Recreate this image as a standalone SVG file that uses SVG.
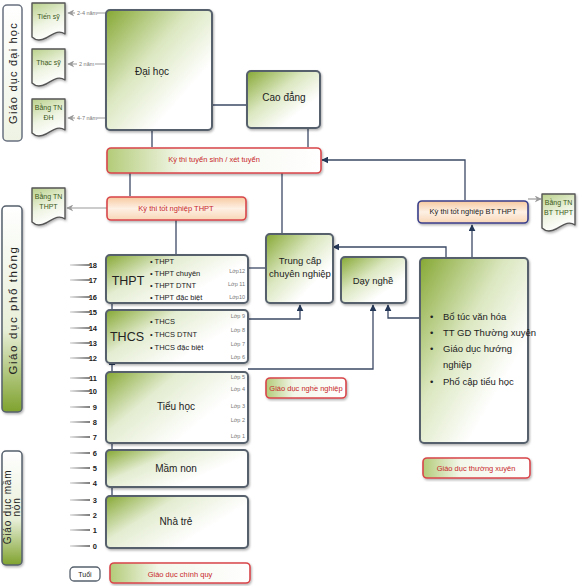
<svg xmlns="http://www.w3.org/2000/svg" xmlns:xlink="http://www.w3.org/1999/xlink" width="580" height="586" viewBox="0 0 580 586">
<defs>
<linearGradient id="gBox" x1="0" y1="0" x2="1" y2="1">
<stop offset="0" stop-color="#86a834"/><stop offset="0.4" stop-color="#dbe7c0"/><stop offset="0.72" stop-color="#ffffff"/>
</linearGradient>
<linearGradient id="gWide" x1="0" y1="0" x2="1" y2="0.6">
<stop offset="0" stop-color="#86a834"/><stop offset="0.38" stop-color="#e3ecd0"/><stop offset="0.8" stop-color="#ffffff"/>
</linearGradient>
<linearGradient id="gLabel" x1="0" y1="0" x2="1" y2="0">
<stop offset="0" stop-color="#b3cb78"/><stop offset="0.35" stop-color="#f3f7ea"/><stop offset="1" stop-color="#ffffff"/>
</linearGradient>
<linearGradient id="gOrange" x1="0" y1="0" x2="0" y2="1">
<stop offset="0" stop-color="#f7c9a0"/><stop offset="0.5" stop-color="#fdf0e4"/><stop offset="1" stop-color="#f9d6b6"/>
</linearGradient>
<linearGradient id="gSide" x1="0" y1="0" x2="0" y2="1">
<stop offset="0" stop-color="#ffffff"/><stop offset="0.6" stop-color="#e8efd8"/><stop offset="1" stop-color="#7fa22e"/>
</linearGradient>
<linearGradient id="gSideLight" x1="0" y1="0" x2="0" y2="1">
<stop offset="0" stop-color="#ffffff"/><stop offset="1" stop-color="#eef3e4"/>
</linearGradient>
<linearGradient id="gDoc" x1="0" y1="0" x2="0.4" y2="1">
<stop offset="0" stop-color="#b9d08a"/><stop offset="0.6" stop-color="#eef4e2"/><stop offset="1" stop-color="#ffffff"/>
</linearGradient>
<linearGradient id="gBar" x1="0" y1="0" x2="1" y2="0">
<stop offset="0" stop-color="#e4e4e4"/><stop offset="1" stop-color="#7d7d7d"/>
</linearGradient>
<filter id="sh" x="-10%" y="-10%" width="130%" height="130%">
<feDropShadow dx="1" dy="1.5" stdDeviation="1.2" flood-color="#000" flood-opacity="0.3"/>
</filter>
<marker id="ar" viewBox="0 0 10 10" refX="9" refY="5" markerWidth="7" markerHeight="7" orient="auto" markerUnits="userSpaceOnUse">
<path d="M0,0 L10,5 L0,10 Z" fill="#253858"/>
</marker>
<marker id="arg" viewBox="0 0 10 10" refX="9" refY="5" markerWidth="7" markerHeight="7" orient="auto" markerUnits="userSpaceOnUse">
<path d="M0,0 L10,5 L0,10 L3,5 Z" fill="#9a9a9a"/>
</marker>
<path id="doc" d="M0,0 H33 V31 C26,26 20,32 14,35 C8,38 3,37 0,34 Z"/>
<style>
text{font-family:"Liberation Sans","DejaVu Sans",sans-serif;fill:#222;}
.box{fill:url(#gBox);stroke:#56606c;stroke-width:2;filter:url(#sh);}
.wide{fill:url(#gWide);stroke:#56606c;stroke-width:2;filter:url(#sh);}
.lbl{fill:url(#gLabel);stroke:#d8464a;stroke-width:1.6;filter:url(#sh);}
.exam{fill:url(#gOrange);stroke:#d8464a;stroke-width:1.6;filter:url(#sh);}
.doc{fill:url(#gDoc);stroke:#555;stroke-width:1.4;stroke-linejoin:round;filter:url(#sh);}
.side{fill:url(#gSide);stroke:#56606c;stroke-width:1.5;filter:url(#sh);}
.conn{fill:none;stroke:#3c4a66;stroke-width:1.3;}
.gconn{fill:none;stroke:#9a9a9a;stroke-width:1.2;}
.red{fill:#c8282c;font-size:7.5px;text-anchor:middle;}
.mid{text-anchor:middle;}
.lop{font-size:5.5px;fill:#777;text-anchor:end;}
.bul{font-size:7.5px;}
.age{font-size:7.5px;font-weight:bold;text-anchor:end;fill:#222;}
.doct{font-size:7px;fill:#3c5a1a;text-anchor:middle;}
.yr{font-size:5.5px;fill:#777;}
</style>
</defs>
<rect width="580" height="586" fill="#ffffff"/>

<!-- side labels -->
<g id="side-dh">
<rect x="3" y="5" width="19" height="136" rx="4" fill="url(#gSideLight)" stroke="#6a7280" stroke-width="1.5"/>
<text transform="translate(16.5,73) rotate(-90)" class="mid" font-size="11" fill="#444" letter-spacing="1.2">Giáo dục đại học</text>
</g>
<g id="side-pt">
<rect x="2" y="206" width="20" height="206" rx="4" class="side"/>
<text transform="translate(16.5,310) rotate(-90)" class="mid" font-size="11.5" fill="#3c5a1a" letter-spacing="1.6">Giáo dục phổ thông</text>
</g>
<g id="side-mn">
<rect x="2" y="451" width="20" height="114" rx="4" class="side"/>
<text transform="translate(11,507) rotate(-90)" class="mid" font-size="10" fill="#3c5a1a" letter-spacing="0.8">Giáo dục mầm</text>
<text transform="translate(20,507) rotate(-90)" class="mid" font-size="10" fill="#3c5a1a" letter-spacing="0.8">non</text>
</g>

<!-- connectors -->
<g id="connectors">
<path class="gconn" d="M106,13 H68" marker-end="url(#arg)"/>
<path class="gconn" d="M106,64 H68" marker-end="url(#arg)"/>
<path class="gconn" d="M106,118 H68" marker-end="url(#arg)"/>
<path class="gconn" d="M107,208 H67" marker-end="url(#arg)"/>
<path class="gconn" d="M528,199 H541" marker-end="url(#arg)"/>
<path class="conn" d="M253,105 H199" marker-end="url(#ar)"/>
<path class="conn" d="M152,147 V122" marker-end="url(#ar)"/>
<path class="conn" d="M308,147 V118" marker-end="url(#ar)"/>
<path class="conn" d="M130,196 V160" marker-end="url(#ar)"/>
<path class="conn" d="M282,236 V163" marker-end="url(#ar)"/>
<path class="conn" d="M465,200 V160 H322" marker-end="url(#ar)"/>
<path class="conn" d="M176,255 V220"/>
<path class="conn" d="M472,283 V225" marker-end="url(#ar)"/>
<path class="conn" d="M446,258 V247 H333" marker-end="url(#ar)"/>
<path class="conn" d="M248,268 H275" marker-end="url(#ar)"/>
<path class="conn" d="M248,319 H300 V305" marker-end="url(#ar)"/>
<path class="conn" d="M248,369 H373 V305" marker-end="url(#ar)"/>
<path class="conn" d="M420,318 H388 V305" marker-end="url(#ar)"/>
<path class="conn" d="M112,505 V479" marker-end="url(#ar)"/>
<path class="conn" d="M112,479 V432" marker-end="url(#ar)"/>
<path class="conn" d="M112,432 V359" marker-end="url(#ar)"/>
<path class="conn" d="M112,359 V289" marker-end="url(#ar)"/>
</g>

<!-- year labels on connectors -->
<g id="years">
<rect x="75" y="9" width="22" height="7" fill="#fff"/>
<text x="77" y="15" class="yr">2-4 năm</text>
<rect x="77" y="60" width="18" height="7" fill="#fff"/>
<text x="79" y="66" class="yr">2 năm</text>
<rect x="75" y="114" width="22" height="7" fill="#fff"/>
<text x="77" y="120" class="yr">4-7 năm</text>
</g>

<!-- documents -->
<g id="doc-ts"><use xlink:href="#doc" x="32" y="3" class="doc"/><text x="48.5" y="19" class="doct">Tiến sỹ</text></g>
<g id="doc-ths"><use xlink:href="#doc" x="32" y="49" class="doc"/><text x="48.5" y="65" class="doct">Thạc sỹ</text></g>
<g id="doc-dh"><use xlink:href="#doc" x="32" y="99" class="doc"/><text x="48.5" y="110" class="doct">Bằng TN</text><text x="48.5" y="120" class="doct">ĐH</text></g>
<g id="doc-thpt"><use xlink:href="#doc" x="32" y="188" class="doc"/><text x="48.5" y="199" class="doct">Bằng TN</text><text x="48.5" y="209" class="doct">THPT</text></g>
<g id="doc-btthpt"><use xlink:href="#doc" x="542" y="194" class="doc"/><text x="558.5" y="205" class="doct">Bằng TN</text><text x="558.5" y="215" class="doct">BT THPT</text></g>

<!-- higher ed -->
<g id="dai-hoc"><rect x="106" y="10" width="106" height="120" rx="4" class="box"/><text x="152" y="75" class="mid" font-size="10">Đại học</text></g>
<g id="cao-dang"><rect x="247" y="71" width="73" height="57" rx="4" class="box"/><text x="284" y="101" class="mid" font-size="10">Cao đẳng</text></g>

<g id="ky-thi-ts"><rect x="107" y="148" width="214" height="25" rx="4" class="lbl"/><text x="214" y="162" class="red" font-size="8">Kỳ thi tuyển sinh / xét tuyển</text></g>
<g id="ky-thi-thpt"><rect x="107" y="197" width="139" height="23" rx="4" class="exam"/><text x="176" y="211" class="red">Kỳ thi tốt nghiệp THPT</text></g>
<g id="ky-thi-bt"><rect x="418" y="201" width="110" height="22" rx="4" fill="url(#gOrange)" stroke="#3a3f8a" stroke-width="1.6" filter="url(#sh)"/><text x="473" y="214" class="mid" font-size="7.5">Kỳ thi tốt nghiệp BT THPT</text></g>

<!-- vocational -->
<g id="trung-cap"><rect x="266" y="234" width="67" height="69" rx="4" class="box"/><text x="300" y="264" class="mid" font-size="9.5">Trung cấp</text><text x="300" y="277" class="mid" font-size="9.5">chuyên nghiệp</text></g>
<g id="day-nghe"><rect x="341" y="257" width="65" height="46" rx="4" class="box"/><text x="373" y="284" class="mid" font-size="9.5">Dạy nghề</text></g>
<g id="gdtx"><rect x="420" y="258" width="108" height="185" rx="4" class="box"/>
<text font-size="9.5">
<tspan x="430" y="320">•</tspan><tspan x="443" y="320">Bổ túc văn hóa</tspan>
<tspan x="430" y="336">•</tspan><tspan x="443" y="336">TT GD Thường xuyên</tspan>
<tspan x="430" y="352">•</tspan><tspan x="443" y="352">Giáo dục hướng</tspan>
<tspan x="443" y="368">nghiệp</tspan>
<tspan x="430" y="385">•</tspan><tspan x="443" y="385">Phổ cập tiểu học</tspan>
</text></g>

<!-- general ed -->
<g id="thpt"><rect x="106" y="255" width="142" height="48" rx="4" class="wide"/>
<text x="128" y="285" class="mid" font-size="12.5">THPT</text>
<text class="bul"><tspan x="150" y="264">• THPT</tspan><tspan x="150" y="276">• THPT chuyên</tspan><tspan x="150" y="288">• THPT DTNT</tspan><tspan x="150" y="300">• THPT đặc biệt</tspan></text>
<text class="lop"><tspan x="245" y="273">Lớp12</tspan><tspan x="245" y="286">Lớp 11</tspan><tspan x="245" y="299">Lớp10</tspan></text>
</g>
<g id="thcs"><rect x="106" y="310" width="142" height="53" rx="4" class="wide"/>
<text x="127" y="341" class="mid" font-size="12.5">THCS</text>
<text class="bul"><tspan x="150" y="324">• THCS</tspan><tspan x="150" y="337">• THCS DTNT</tspan><tspan x="150" y="350">• THCS đặc biệt</tspan></text>
<text class="lop"><tspan x="245" y="318">Lớp 9</tspan><tspan x="245" y="332">Lớp 8</tspan><tspan x="245" y="346">Lớp 7</tspan><tspan x="245" y="359">Lớp 6</tspan></text>
</g>
<g id="tieu-hoc"><rect x="106" y="372" width="142" height="71" rx="4" class="wide"/>
<text x="176" y="410" class="mid" font-size="10">Tiểu học</text>
<text class="lop"><tspan x="245" y="379">Lớp 5</tspan><tspan x="245" y="391">Lớp 4</tspan><tspan x="245" y="408">Lớp 3</tspan><tspan x="245" y="422">Lớp 2</tspan><tspan x="245" y="438">Lớp 1</tspan></text>
</g>
<g id="mam-non"><rect x="106" y="450" width="142" height="37" rx="4" class="wide"/><text x="176" y="472" class="mid" font-size="10">Mầm non</text></g>
<g id="nha-tre"><rect x="106" y="496" width="142" height="52" rx="4" class="wide"/><text x="176" y="525" class="mid" font-size="10">Nhà trẻ</text></g>

<!-- age scale -->
<g id="ages">
<g fill="url(#gBar)">
<rect x="70" y="264" width="20" height="2"/><rect x="70" y="279" width="20" height="2"/><rect x="70" y="296" width="20" height="2"/><rect x="70" y="311" width="20" height="2"/><rect x="70" y="327" width="20" height="2"/><rect x="70" y="342" width="20" height="2"/><rect x="70" y="357" width="20" height="2"/><rect x="70" y="377" width="20" height="2"/><rect x="70" y="390" width="20" height="2"/><rect x="70" y="406" width="20" height="2"/><rect x="70" y="421" width="20" height="2"/><rect x="70" y="436" width="20" height="2"/><rect x="70" y="452" width="20" height="2"/><rect x="70" y="467" width="20" height="2"/><rect x="70" y="482" width="20" height="2"/><rect x="70" y="499" width="20" height="2"/><rect x="70" y="514" width="20" height="2"/><rect x="70" y="529" width="20" height="2"/><rect x="70" y="545" width="20" height="2"/>
</g>
<text class="age">
<tspan x="97" y="268">18</tspan><tspan x="97" y="283">17</tspan><tspan x="97" y="300">16</tspan><tspan x="97" y="315">15</tspan><tspan x="97" y="331">14</tspan><tspan x="97" y="346">13</tspan><tspan x="97" y="361">12</tspan><tspan x="97" y="381">11</tspan><tspan x="97" y="394">10</tspan><tspan x="97" y="410">9</tspan><tspan x="97" y="425">8</tspan><tspan x="97" y="440">7</tspan><tspan x="97" y="456">6</tspan><tspan x="97" y="471">5</tspan><tspan x="97" y="486">4</tspan><tspan x="97" y="503">3</tspan><tspan x="97" y="518">2</tspan><tspan x="97" y="533">1</tspan><tspan x="97" y="549">0</tspan>
</text>
</g>

<!-- category labels -->
<g id="tuoi"><rect x="70" y="567" width="30" height="14" rx="4" fill="#fff" stroke="#56606c" stroke-width="1.3"/><text x="85" y="577" class="mid" font-size="7">Tuổi</text></g>
<g id="gd-chinh-quy"><rect x="110" y="563" width="140" height="20" rx="4" class="lbl"/><text x="180" y="577" class="red" font-size="9.5">Giáo dục chính quy</text></g>
<g id="gd-nghe-nghiep"><rect x="266" y="378" width="80" height="20" rx="4" class="lbl"/><text x="306" y="391" class="red" font-size="8">Giáo dục nghề nghiệp</text></g>
<g id="gd-thuong-xuyen"><rect x="423" y="458" width="107" height="20" rx="4" class="lbl"/><text x="476" y="471" class="red" font-size="8.5">Giáo dục thường xuyên</text></g>
</svg>
